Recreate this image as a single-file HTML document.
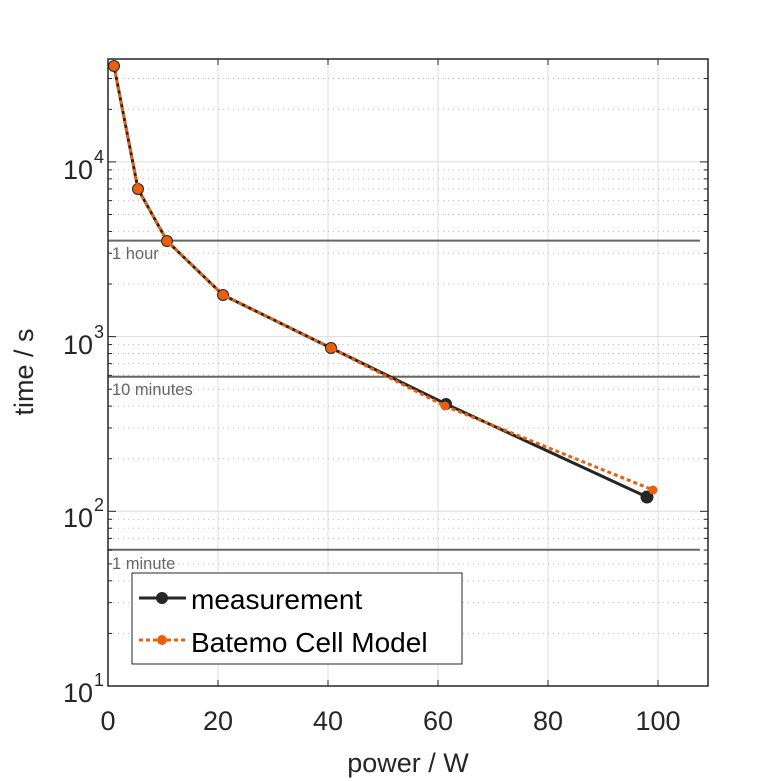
<!DOCTYPE html>
<html><head><meta charset="utf-8"><style>body{margin:0;background:#fff}svg{display:block}</style></head>
<body>
<svg id="s" width="781" height="781" xmlns="http://www.w3.org/2000/svg" font-family="Liberation Sans, sans-serif">
<rect width="781" height="781" fill="#fff"/>
<g id="grid"></g>
<g stroke="#666" stroke-width="2">
<line x1="108" y1="240.6" x2="700" y2="240.6"/>
<line x1="108" y1="376.8" x2="700" y2="376.8"/>
<line x1="108" y1="549.8" x2="700" y2="549.8"/>
</g>
<g fill="#666" font-size="16.5">
<text x="112" y="259">1 hour</text>
<text x="112" y="395">10 minutes</text>
<text x="112" y="569">1 minute</text>
</g>
<rect x="108" y="59" width="600" height="627" fill="none" stroke="#262626" stroke-width="1.5"/>
<g id="ticks" stroke="#262626" stroke-width="1"></g>
<polyline points="114,66 138,189 167,241 223,295 331,348 446,404 647,497" fill="none" stroke="#262626" stroke-width="3"/>
<g fill="#262626"><circle cx="114" cy="66" r="6"/><circle cx="138" cy="189" r="6"/><circle cx="167" cy="241" r="6"/><circle cx="223" cy="295" r="6"/><circle cx="331" cy="348" r="6"/><circle cx="446" cy="404" r="6"/><circle cx="647" cy="497" r="6.5"/></g>
<polyline points="114,66 138,189 167,241 223,295 331,348 445,406 653,490" fill="none" stroke="#e8600e" stroke-width="3" stroke-dasharray="4,3"/>
<g fill="#e8600e"><circle cx="114" cy="66" r="5"/><circle cx="138" cy="189" r="5"/><circle cx="167" cy="241" r="5"/><circle cx="223" cy="295" r="5"/><circle cx="331" cy="348" r="5"/><circle cx="445" cy="406" r="4.5"/><circle cx="653" cy="490" r="4.5"/></g>
<rect x="132" y="573" width="330" height="91" fill="#fff" stroke="#262626" stroke-width="1"/>
<line x1="139" y1="598" x2="186" y2="598" stroke="#262626" stroke-width="3"/><circle cx="162" cy="598" r="6" fill="#262626"/>
<line x1="139" y1="640" x2="186" y2="640" stroke="#e8600e" stroke-width="3" stroke-dasharray="4,3"/><circle cx="162" cy="640" r="5" fill="#e8600e"/>
<g font-size="28" fill="#000"><text x="191" y="609">measurement</text><text x="191" y="652">Batemo Cell Model</text></g>
<g font-size="27" fill="#262626" text-anchor="middle">
<text x="108" y="730">0</text><text x="218" y="730">20</text><text x="328" y="730">40</text><text x="438" y="730">60</text><text x="548" y="730">80</text><text x="658" y="730">100</text>
<text x="408" y="772" font-size="27">power / W</text>
</g>
<g font-size="27" fill="#262626" text-anchor="end">
<text x="93" y="179">10</text><text x="93" y="354">10</text><text x="93" y="527">10</text><text x="93" y="702">10</text>
</g>
<g font-size="18" fill="#262626"><text x="94" y="163">4</text><text x="94" y="338">3</text><text x="94" y="511">2</text><text x="94" y="686">1</text></g>
<text transform="translate(33,372) rotate(-90)" font-size="27" fill="#262626" text-anchor="middle">time / s</text>
</svg>
<script>
var g=document.getElementById('grid'),t=document.getElementById('ticks'),ns='http://www.w3.org/2000/svg';
function L(p,a,b,c,d,s,w,da){var l=document.createElementNS(ns,'line');l.setAttribute('x1',a);l.setAttribute('y1',b);l.setAttribute('x2',c);l.setAttribute('y2',d);l.setAttribute('stroke',s);l.setAttribute('stroke-width',w);if(da)l.setAttribute('stroke-dasharray',da);p.appendChild(l);}
for(var i=1;i<=5;i++){var x=108+110*i;L(g,x,59,x,686,'#ddd',1);L(t,x,686,x,680,'#262626',1);L(t,x,59,x,65,'#262626',1);}
for(var e=1;e<=4;e++){for(var m=1;m<10;m++){var v=Math.log10(m)+e;var y=686-(v-1)*174.7;if(y<59)continue;
if(m==1){L(g,108,y,708,y,'#ddd',1);L(t,108,y,116,y,'#262626',1);L(t,708,y,700,y,'#262626',1);}
else{L(g,108,y,708,y,'#bbb',1,'1,4');L(t,108,y,112,y,'#262626',1);L(t,708,y,704,y,'#262626',1);}}}
</script>
</body></html>
